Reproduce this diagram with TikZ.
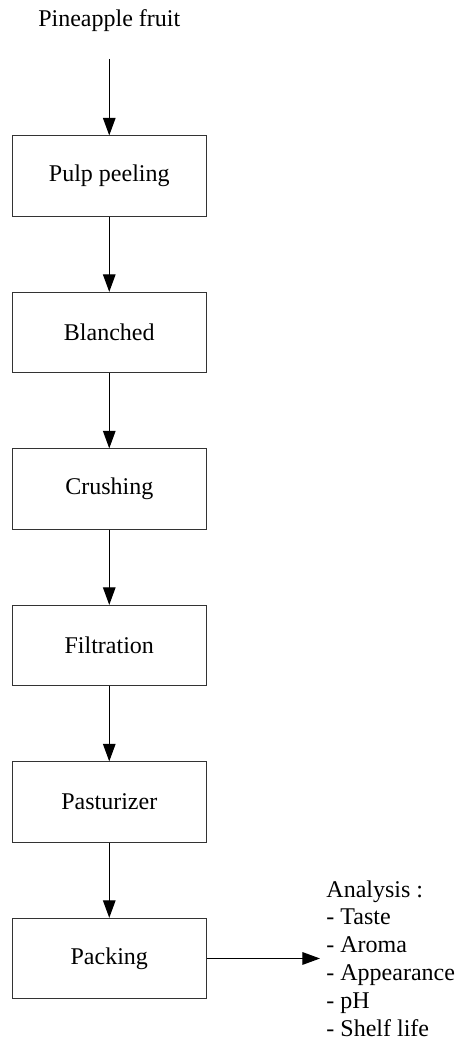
\documentclass[tikz,border=0pt]{standalone}
\usepackage{fontspec}
\setmainfont{Liberation Serif}
\usetikzlibrary{arrows.meta}

\begin{document}
\begin{tikzpicture}[
  stage/.style={draw=black!80, line width=0.5pt, minimum width=3.4cm, minimum height=1.41cm, inner sep=0pt},
  flow/.style={line width=0.6pt, -{Triangle[length=8.8pt,width=6.3pt]}},
  font=\fontsize{12pt}{13.95pt}\selectfont]
\useasboundingbox (0,0) rectangle (8.048,18.293);

\node [anchor=base] (fruit) at (1.92,17.82) {Pineapple fruit};
\coordinate (start) at (1.92,17.26);

\node [stage] (peel) at (1.92,15.2) {Pulp peeling};
\node [stage] (blanch) at (1.92,12.45) {Blanched};
\node [stage] (crush) at (1.92,9.7) {Crushing};
\node [stage] (filter) at (1.92,6.95) {Filtration};
\node [stage] (pasteur) at (1.92,4.2) {Pasturizer};
\node [stage] (pack) at (1.92,1.45) {Packing};

\node [anchor=north west, align=left, inner sep=0pt] (analysis) at (5.729,2.829)
  {Analysis :\\- Taste\\- Aroma\\- Appearance\\- pH\\- Shelf life};
\coordinate (out) at (5.623,1.45);

\draw [flow] (start) -- (peel);
\draw [flow] (peel) -- (blanch);
\draw [flow] (blanch) -- (crush);
\draw [flow] (crush) -- (filter);
\draw [flow] (filter) -- (pasteur);
\draw [flow] (pasteur) -- (pack);
\draw [flow] (pack) -- (out);
\end{tikzpicture}
\end{document}
